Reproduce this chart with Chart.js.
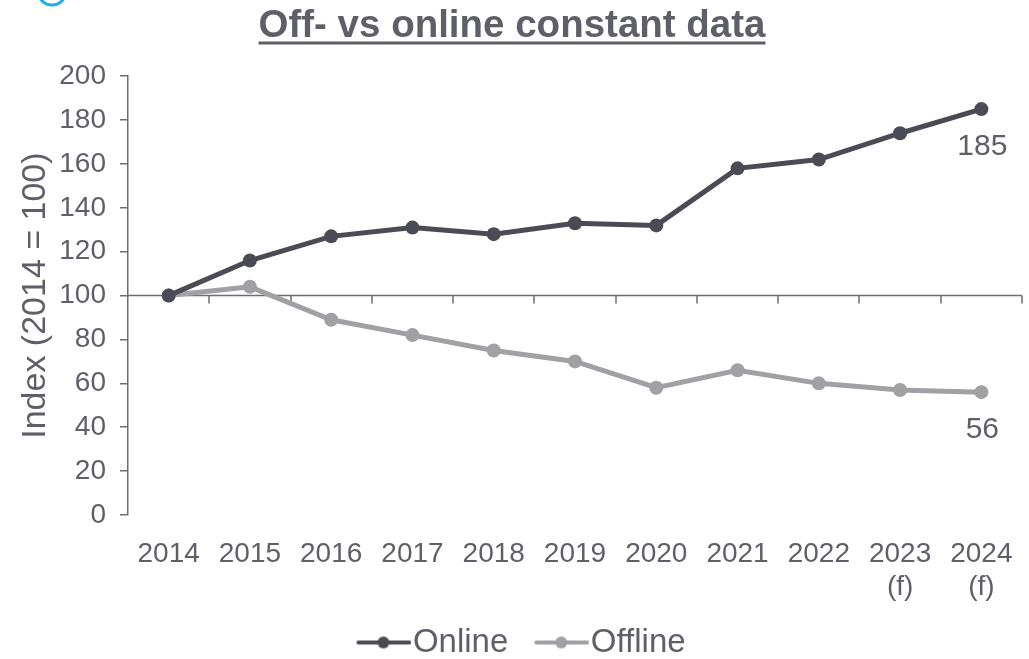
<!DOCTYPE html>
<html>
<head>
<meta charset="utf-8">
<script src="https://cdn.jsdelivr.net/npm/chart.js@4.4.1/dist/chart.umd.min.js"></script>
<style>
  body { margin: 0; background: #fff; }
  #wrap { width: 1029px; height: 659px; position: relative; }
</style>
</head>
<body>
<div id="wrap"><canvas id="chart"></canvas></div>
<script>
const years = [['2014'], ['2015'], ['2016'], ['2017'], ['2018'], ['2019'], ['2020'], ['2021'], ['2022'], ['2023', '(f)'], ['2024', '(f)']];
const onlineValues = [100, 116, 127, 131, 128, 133, 132, 158, 162, 174, 185];
const offlineValues = [100, 104, 89, 82, 75, 70, 58, 66, 60, 57, 56];
const yTicks = { min: 0, max: 200, step: 20 };

const textColor = '#5f5f69';
const axisColor = '#6c6c76';
const onlineColor = '#4b4b55';
const offlineColor = '#a0a0a5';
const fontFamily = '"Liberation Sans", Arial, sans-serif';
const titleFont = 'bold 38.5px ' + fontFamily;

// line + dot marker for the legend; transparent left part gives the gap between items
function legendMarker(color) {
  const c = document.createElement('canvas');
  c.width = 88;
  c.height = 14;
  const g = c.getContext('2d');
  g.strokeStyle = color;
  g.lineWidth = 4;
  g.lineCap = 'round';
  g.beginPath();
  g.moveTo(35, 7);
  g.lineTo(86, 7);
  g.stroke();
  g.fillStyle = color;
  g.beginPath();
  g.arc(60, 7, 6, 0, Math.PI * 2);
  g.fill();
  return c;
}

// horizontal axis sits at index 100, with ticks between the years
const baseLinePlugin = {
  id: 'baseLine',
  beforeDatasetsDraw(chart) {
    const { ctx, chartArea, scales } = chart;
    const y = scales.y.getPixelForValue(100);
    const x = scales.x;
    const half = (x.getPixelForTick(1) - x.getPixelForTick(0)) / 2;
    ctx.save();
    ctx.strokeStyle = axisColor;
    ctx.lineWidth = 1.5;
    ctx.beginPath();
    ctx.moveTo(chartArea.left, y);
    ctx.lineTo(chartArea.right, y);
    for (let i = 0; i < years.length; i++) {
      const tx = Math.round(x.getPixelForTick(i) + half);
      ctx.moveTo(tx, y);
      ctx.lineTo(tx, y + 8);
    }
    ctx.stroke();
    ctx.restore();
  }
};

// end value labels, title underline and the cyan ring in the corner
const extrasPlugin = {
  id: 'extras',
  afterDraw(chart) {
    const { ctx } = chart;
    ctx.save();
    ctx.fillStyle = textColor;
    ctx.font = '30px ' + fontFamily;
    ctx.textAlign = 'center';
    ctx.textBaseline = 'middle';
    chart.data.datasets.forEach((ds, i) => {
      const meta = chart.getDatasetMeta(i);
      const last = meta.data[meta.data.length - 1];
      ctx.fillText(String(ds.data[ds.data.length - 1]), last.x + 1, last.y + 38);
    });

    const t = chart.titleBlock;
    ctx.font = titleFont;
    const w = ctx.measureText(chart.options.plugins.title.text).width;
    const cx = (t.left + t.right) / 2;
    ctx.strokeStyle = textColor;
    ctx.lineWidth = 3;
    ctx.beginPath();
    ctx.moveTo(cx - w / 2, 43);
    ctx.lineTo(cx + w / 2, 43);
    ctx.stroke();

    ctx.strokeStyle = '#1cb0e3';
    ctx.lineWidth = 3;
    ctx.beginPath();
    ctx.arc(52, -9, 14, 0, Math.PI * 2);
    ctx.stroke();
    ctx.restore();
  }
};

new Chart(document.getElementById('chart'), {
  type: 'line',
  data: {
    labels: years,
    datasets: [
      {
        label: 'Online',
        data: onlineValues,
        borderColor: onlineColor,
        backgroundColor: onlineColor,
        borderWidth: 5,
        pointRadius: 7,
        pointHoverRadius: 7,
        pointBorderWidth: 0,
        tension: 0
      },
      {
        label: 'Offline',
        data: offlineValues,
        borderColor: offlineColor,
        backgroundColor: offlineColor,
        borderWidth: 5,
        pointRadius: 7,
        pointHoverRadius: 7,
        pointBorderWidth: 0,
        tension: 0
      }
    ]
  },
  options: {
    responsive: true,
    maintainAspectRatio: false,
    animation: false,
    layout: { padding: { left: 0, right: 5, top: 0, bottom: -10 } },
    scales: {
      x: {
        offset: true,
        afterFit: scale => { scale.height = 103; },
        grid: { display: false },
        border: { display: false },
        ticks: {
          color: textColor,
          font: { family: fontFamily, size: 28 },
          padding: 14,
          maxRotation: 0,
          autoSkip: false
        }
      },
      y: {
        min: yTicks.min,
        max: yTicks.max,
        afterFit: scale => { scale.width = 128; },
        border: { display: true, color: axisColor, width: 1.5 },
        grid: { drawOnChartArea: false, drawTicks: true, tickLength: 8, color: axisColor, lineWidth: 1.5 },
        ticks: {
          stepSize: yTicks.step,
          color: textColor,
          padding: 14,
          font: { family: fontFamily, size: 28 }
        },
        title: {
          display: true,
          text: 'Index (2014 = 100)',
          color: textColor,
          font: { family: fontFamily, size: 34 },
          padding: { top: 15, bottom: 0 }
        }
      }
    },
    plugins: {
      title: {
        display: true,
        text: 'Off- vs online constant data',
        color: textColor,
        font: { family: fontFamily, size: 38.5, weight: 'bold' },
        padding: { top: 3, bottom: 27 }
      },
      legend: {
        position: 'bottom',
        labels: {
          color: textColor,
          font: { family: fontFamily, size: 33 },
          usePointStyle: true,
          pointStyleWidth: 58,
          padding: 8,
          generateLabels: chart => chart.data.datasets.map((ds, i) => ({
            text: ds.label,
            fontColor: textColor,
            pointStyle: legendMarker(ds.borderColor),
            datasetIndex: i,
            hidden: false,
            lineWidth: 0,
            strokeStyle: 'transparent',
            fillStyle: ds.borderColor
          }))
        }
      },
      tooltip: { enabled: false }
    }
  },
  plugins: [baseLinePlugin, extrasPlugin]
});
</script>
</body>
</html>
